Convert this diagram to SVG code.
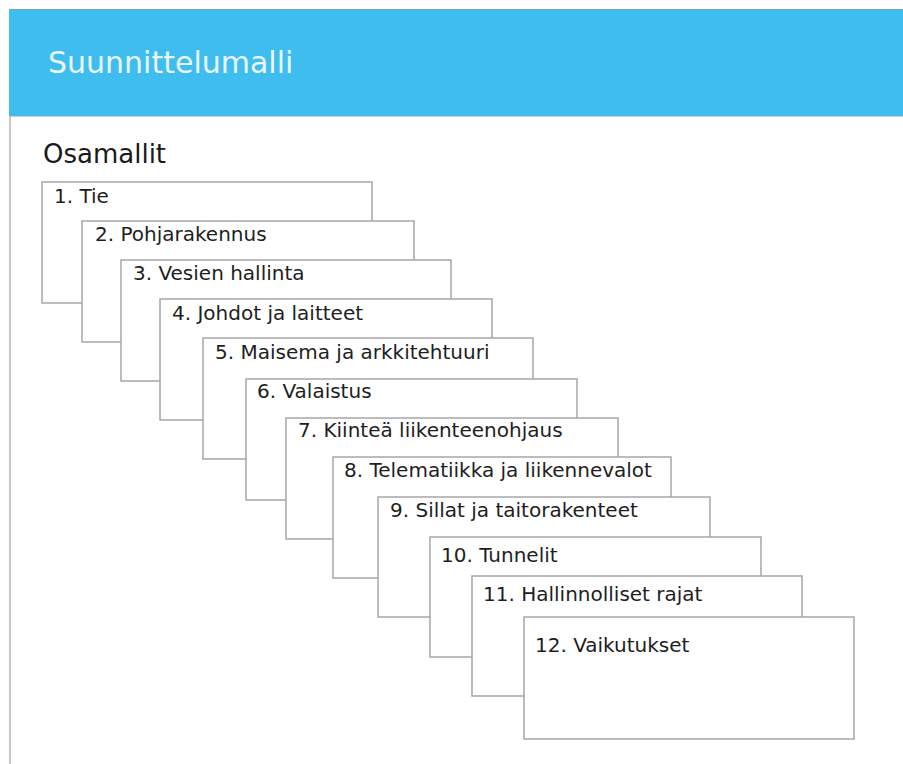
<svg xmlns="http://www.w3.org/2000/svg" width="903" height="764" viewBox="0 0 903 764">
<style>
.box{fill:#ffffff;stroke:#a6a6a6;stroke-width:1.5}
.lbl{font-family:"DejaVu Sans","Liberation Sans",sans-serif;font-size:20px;fill:#1e1e1e}
.title{font-family:"DejaVu Sans","Liberation Sans",sans-serif;font-size:30px;fill:#e8f7fd}
.sub{font-family:"DejaVu Sans","Liberation Sans",sans-serif;font-size:26px;fill:#1a1a1a}
</style>
<rect x="0" y="0" width="903" height="764" fill="#ffffff"/>
<g id="header">
<rect x="9" y="9" width="894" height="107" fill="#3fbdee"/>
<line x1="9" y1="9.5" x2="903" y2="9.5" stroke="#6aaecb" stroke-width="1"/>
<line x1="9" y1="116" x2="903" y2="116" stroke="#6aaecb" stroke-width="1"/>
<text class="title" x="48" y="73">Suunnittelumalli</text>
</g>
<line x1="10" y1="116" x2="10" y2="764" stroke="#c8c8c8" stroke-width="2"/>
<text class="sub" x="43" y="163">Osamallit</text>
<g id="connectors"></g>
<g id="n1"><rect class="box" x="42" y="182" width="330" height="121"/><text class="lbl" x="54" y="203">1. Tie</text></g>
<g id="n2"><rect class="box" x="82" y="221" width="332" height="121"/><text class="lbl" x="95" y="241">2. Pohjarakennus</text></g>
<g id="n3"><rect class="box" x="121" y="260" width="330" height="121"/><text class="lbl" x="133" y="280">3. Vesien hallinta</text></g>
<g id="n4"><rect class="box" x="160" y="299" width="332" height="121"/><text class="lbl" x="172" y="320">4. Johdot ja laitteet</text></g>
<g id="n5"><rect class="box" x="203" y="338" width="330" height="121"/><text class="lbl" x="215" y="359">5. Maisema ja arkkitehtuuri</text></g>
<g id="n6"><rect class="box" x="246" y="379" width="331" height="121"/><text class="lbl" x="257" y="398">6. Valaistus</text></g>
<g id="n7"><rect class="box" x="286" y="418" width="332" height="121"/><text class="lbl" x="298" y="437">7. Kiinteä liikenteenohjaus</text></g>
<g id="n8"><rect class="box" x="333" y="457" width="338" height="121"/><text class="lbl" x="344" y="477">8. Telematiikka ja liikennevalot</text></g>
<g id="n9"><rect class="box" x="378" y="497" width="332" height="120"/><text class="lbl" x="390" y="517">9. Sillat ja taitorakenteet</text></g>
<g id="n10"><rect class="box" x="430" y="537" width="331" height="120"/><text class="lbl" x="441" y="562">10. Tunnelit</text></g>
<g id="n11"><rect class="box" x="472" y="576" width="330" height="120"/><text class="lbl" x="483" y="601">11. Hallinnolliset rajat</text></g>
<g id="n12"><rect class="box" x="524" y="617" width="330" height="122"/><text class="lbl" x="535" y="652">12. Vaikutukset</text></g>
</svg>
